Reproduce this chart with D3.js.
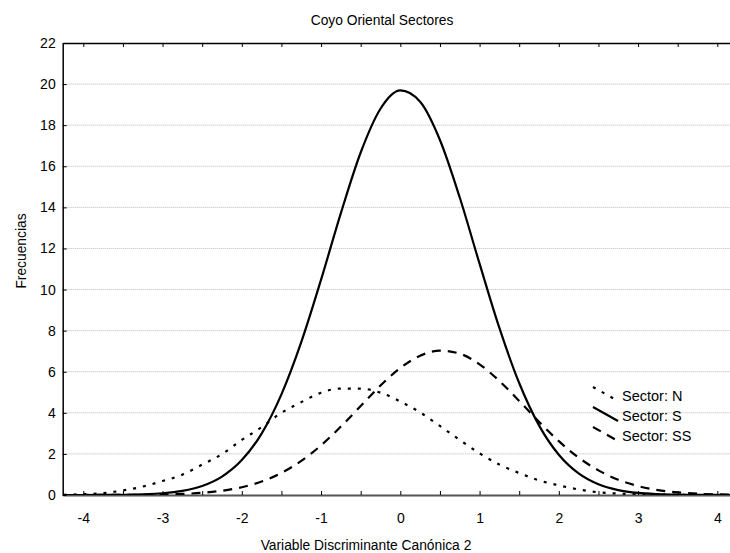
<!DOCTYPE html>
<html>
<head>
<meta charset="utf-8">
<script src="https://cdn.jsdelivr.net/npm/d3@7"></script>
<style>
  html, body { margin: 0; padding: 0; background: #fff; }
  svg { display: block; }
  text { font-family: "Liberation Sans", Arial, sans-serif; fill: #000; }
</style>
</head>
<body>
<svg id="chart" width="730" height="553"></svg>
<script>
// ---- data ----
const title = "Coyo Oriental Sectores";
const xTitle = "Variable Discriminante Canónica 2";
const yTitle = "Frecuencias";
const xVals = [-4.25,-4.0,-3.75,-3.5,-3.25,-3.0,-2.75,-2.5,-2.25,-2.0,-1.75,-1.5,-1.25,-1.0,-0.75,-0.5,-0.25,0,0.25,0.5,0.75,1.0,1.25,1.5,1.75,2.0,2.25,2.5,2.75,3.0,3.25,3.5,3.75,4.0,4.25];
const sectorN  = [0.01,0.04,0.09,0.22,0.41,0.68,0.99,1.48,1.99,2.68,3.30,4.00,4.52,4.98,5.18,5.18,4.98,4.55,4.02,3.36,2.68,2.03,1.48,1.07,0.71,0.47,0.27,0.13,0.07,0.04,0.02,0.01,0.005,0.0,0.0];
const sectorS  = [0.0,0.001,0.004,0.012,0.033,0.084,0.198,0.438,0.896,1.70,2.99,4.90,7.44,10.48,13.72,16.67,18.80,19.69,19.14,17.28,14.48,11.26,8.13,5.45,3.39,1.96,1.05,0.52,0.24,0.10,0.041,0.015,0.005,0.002,0.0];
const sectorSS = [0.0,0.001,0.002,0.004,0.010,0.024,0.052,0.107,0.207,0.379,0.657,1.073,1.657,2.416,3.33,4.33,5.33,6.18,6.78,7.03,6.88,6.36,5.55,4.58,3.56,2.62,1.82,1.20,0.74,0.435,0.24,0.126,0.062,0.029,0.013];
const seriesNames = ["Sector: N", "Sector: S", "Sector: SS"];
const xTicks = [-4,-3.5,-3,-2.5,-2,-1.5,-1,-0.5,0,0.5,1,1.5,2,2.5,3,3.5,4];
const yTicks = [0,2,4,6,8,10,12,14,16,18,20,22];
const xDomain = [-4.26, 4.16];
const yDomain = [0, 22];

// ---- layout ----
const pL = 62.7, pR = 730, pT = 43, pB = 495;
const svg = d3.select("#chart");
const x = d3.scaleLinear().domain(xDomain).range([pL, pR]);
const y = d3.scaleLinear().domain(yDomain).range([pB, pT]);

// gridlines
svg.append("g").selectAll("line")
  .data(yTicks.filter(v => v > 0 && v < 22))
  .join("line")
  .attr("x1", pL).attr("x2", pR)
  .attr("y1", d => y(d)).attr("y2", d => y(d))
  .attr("stroke", "#b8b8b8").attr("stroke-width", 1)
  .attr("stroke-dasharray", "1,1");

// clip
svg.append("defs").append("clipPath").attr("id", "plot")
  .append("rect").attr("x", pL).attr("y", pT).attr("width", pR - pL).attr("height", pB - pT);

// axes
const xAxis = d3.axisBottom(x).tickValues(xTicks).tickSizeInner(-4).tickSizeOuter(0).tickPadding(18)
  .tickFormat(d => Number.isInteger(d) ? String(d) : "");
const gx = svg.append("g").attr("transform", `translate(0,${pB})`).call(xAxis);
gx.select(".domain").attr("stroke", "#555").attr("stroke-width", 2);
gx.selectAll(".tick line").attr("stroke", "#000");
gx.selectAll("text").attr("font-size", 14).attr("font-family", "Liberation Sans, Arial, sans-serif");

const xTop = d3.axisTop(x).tickValues(xTicks).tickSizeInner(-4).tickSizeOuter(0).tickFormat("");
const gt = svg.append("g").attr("transform", `translate(0,${pT})`).call(xTop);
gt.select(".domain").attr("stroke", "#000").attr("stroke-width", 1.5);

const yAxis = d3.axisLeft(y).tickValues(yTicks).tickSizeInner(-4).tickSizeOuter(0).tickPadding(7);
const gy = svg.append("g").attr("transform", `translate(${pL},0)`).call(yAxis);
gy.select(".domain").attr("stroke", "#000").attr("stroke-width", 1.5);
gy.selectAll("text").attr("font-size", 14).attr("font-family", "Liberation Sans, Arial, sans-serif");

// lines
const styles = [
  { data: sectorN,  dash: "3,7" },
  { data: sectorS,  dash: null },
  { data: sectorSS, dash: "9,7" }
];
const line = d3.line().x((d, i) => x(xVals[i])).y(d => y(d)).curve(d3.curveMonotoneX);
const gl = svg.append("g").attr("clip-path", "url(#plot)");
styles.forEach(s => {
  gl.append("path").datum(s.data)
    .attr("d", line)
    .attr("fill", "none").attr("stroke", "#000").attr("stroke-width", 2.2)
    .attr("stroke-dasharray", s.dash);
});

// legend (diagonal samples)
const lg = svg.append("g");
const legY = [387, 407, 427];
seriesNames.forEach((name, i) => {
  lg.append("line")
    .attr("x1", 593).attr("y1", legY[i]).attr("x2", 618).attr("y2", legY[i] + 14)
    .attr("stroke", "#000").attr("stroke-width", 2.2)
    .attr("stroke-dasharray", styles[i].dash);
  lg.append("text").attr("x", 622).attr("y", legY[i] + 14)
    .attr("font-size", 14.5).text(name);
});

// titles
svg.append("text").attr("x", 382).attr("y", 25).attr("text-anchor", "middle")
  .attr("font-size", 13.8).text(title);
svg.append("text").attr("x", 366).attr("y", 550).attr("text-anchor", "middle")
  .attr("font-size", 13.8).text(xTitle);
svg.append("text").attr("transform", "translate(26,251) rotate(-90)").attr("text-anchor", "middle")
  .attr("font-size", 13.8).text(yTitle);
</script>
</body>
</html>
